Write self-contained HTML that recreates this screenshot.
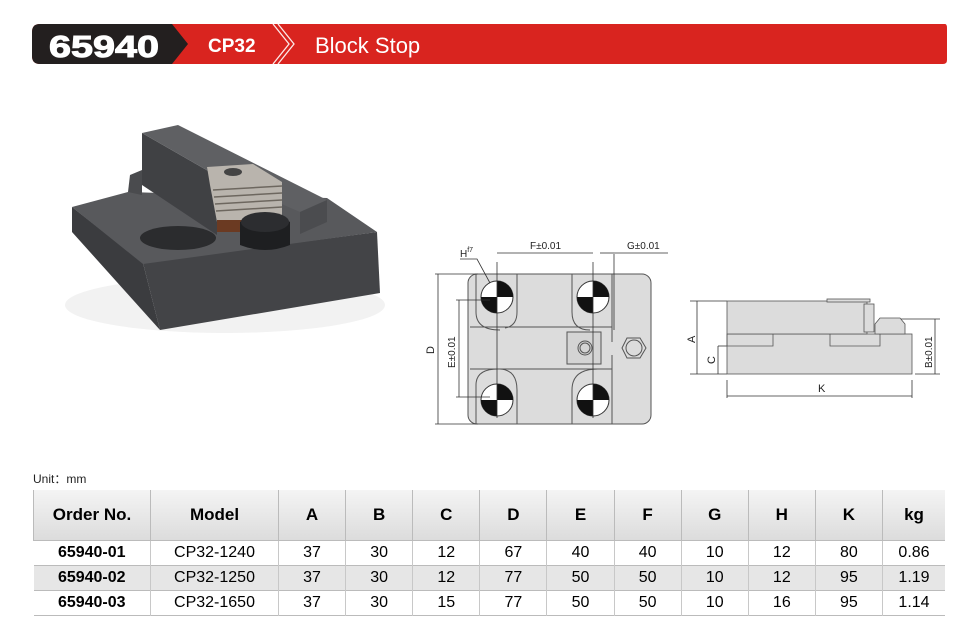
<!DOCTYPE html>
<html><head><meta charset="utf-8"><style>
body{margin:0;background:#fff;width:968px;height:627px;overflow:hidden;font-family:"Liberation Sans",Arial,sans-serif;position:relative}
.abs{position:absolute}
table{border-collapse:collapse;position:absolute;left:33px;top:490px;width:912px;font-size:16px}
td{text-align:center;padding:0;border-left:1px solid #c8c8c8}
td:first-child{border-left:none;font-weight:bold}
tr.h td{height:50px;font-weight:bold;font-size:17px;background:linear-gradient(#f4f4f4,#dcdcdc);border-left:1px solid #bbb}
tr.r td{height:24px;border-top:1px solid #bbb}
tr.g td{background:#e6e6e6}
</style></head><body>
<svg class="abs" style="left:0;top:0" width="968" height="627">
<path d="M40,24 H945 Q947,24 947,28 V60 Q947,64 943,64 H40 Q32,64 32,56 V32 Q32,24 40,24Z" fill="#d9241f"/>
<path d="M40,24 H172 L188,44 L172,64 H40 Q32,64 32,56 V32 Q32,24 40,24Z" fill="#231f1f"/>
<path d="M273,24 L289,44 L273,64 M278,24 L294,44 L278,64" stroke="#fff" stroke-width="1.3" fill="none" opacity="0.9"/>
<text x="49" y="57" font-size="31" font-weight="bold" fill="#fff" font-family="Liberation Sans" textLength="110" lengthAdjust="spacingAndGlyphs" stroke="#fff" stroke-width="1">65940</text>
<text x="208" y="52" font-size="19" font-weight="bold" fill="#fff" font-family="Liberation Sans">CP32</text>
<text x="315" y="53" font-size="22" fill="#fff" font-family="Liberation Sans">Block Stop</text>

<ellipse cx="225" cy="305" rx="160" ry="28" fill="#f2f2f2"/>
<polygon points="72,207 143,263 160,330 72,232" fill="#3b3c3f"/>
<polygon points="143,263 377,232 380,293 160,330" fill="#434447"/>
<polygon points="72,207 128,192 327,198 377,232 143,264" fill="#58595c"/>
<polygon points="130,175 142,170 142,195 128,192" fill="#4a4b4e"/>
<ellipse cx="178" cy="238" rx="38" ry="12" fill="#2b2c2e"/>
<polygon points="142,133 217,176 217,235 142,185" fill="#404144"/>
<polygon points="142,133 178,125 327,200 300,212 217,176" fill="#5f6063"/>
<polygon points="300,212 327,200 327,222 300,234" fill="#4b4c4f"/>
<polygon points="207,167 253,164 282,182 282,217 217,222 210,185" fill="#b9b4ad"/>
<g stroke="#6d675f" stroke-width="1.5"><line x1="213" y1="190" x2="282" y2="186"/><line x1="214" y1="197" x2="282" y2="193"/><line x1="215" y1="204" x2="282" y2="200"/><line x1="216" y1="211" x2="282" y2="207"/></g>
<ellipse cx="233" cy="172" rx="9" ry="4" fill="#444"/>
<rect x="217" y="220" width="25" height="12" fill="#6b3a22"/>
<path d="M240,222 Q265,205 290,222 V245 Q265,255 240,245Z" fill="#1e1f21"/>
<ellipse cx="265" cy="222" rx="24" ry="10" fill="#2c2d30"/>

<g stroke="#555" stroke-width="1" fill="none">
<rect x="468" y="274" width="183" height="150" rx="9" fill="#dcdcdc"/>
<path d="M470,327 H612 V342 M470,369 H612 V355"/>
<path d="M476,274 V312 Q476,330 500,330 M517,274 V312 Q517,326 505,328"/>
<path d="M572,274 V312 Q572,330 590,330 M612,274 V342"/>
<path d="M476,424 V385 Q476,369 498,369 M517,424 V390 Q517,370 500,369"/>
<path d="M572,424 V390 Q572,369 598,369 M612,424 V355"/>
<rect x="567" y="332" width="34" height="32" fill="#d4d4d4"/>
<circle cx="585" cy="348" r="7"/><circle cx="585" cy="348" r="5"/>
<polygon points="622,348 627,338 640,338 646,348 640,358 627,358"/>
<circle cx="634" cy="348" r="8"/>
</g>
<g>
<circle cx="497" cy="297" r="16" fill="#fff" stroke="#333"/><path d="M497,297 V281 A16,16 0 0 1 513,297Z M497,297 V313 A16,16 0 0 1 481,297Z" fill="#111"/>
<circle cx="593" cy="297" r="16" fill="#fff" stroke="#333"/><path d="M593,297 V281 A16,16 0 0 1 609,297Z M593,297 V313 A16,16 0 0 1 577,297Z" fill="#111"/>
<circle cx="497" cy="400" r="16" fill="#fff" stroke="#333"/><path d="M497,400 V384 A16,16 0 0 1 513,400Z M497,400 V416 A16,16 0 0 1 481,400Z" fill="#111"/>
<circle cx="593" cy="400" r="16" fill="#fff" stroke="#333"/><path d="M593,400 V384 A16,16 0 0 1 609,400Z M593,400 V416 A16,16 0 0 1 577,400Z" fill="#111"/>
</g>
<g stroke="#333" stroke-width="0.8" fill="none">
<line x1="497" y1="262" x2="497" y2="418"/><line x1="593" y1="262" x2="593" y2="418"/><line x1="614" y1="254" x2="614" y2="330"/>
<line x1="497" y1="253" x2="593" y2="253"/><line x1="600" y1="253" x2="614" y2="253"/><line x1="614" y1="253" x2="668" y2="253"/>
<line x1="435" y1="274" x2="478" y2="274"/><line x1="435" y1="424" x2="478" y2="424"/><line x1="438" y1="274" x2="438" y2="424"/>
<line x1="456" y1="300" x2="490" y2="300"/><line x1="456" y1="397" x2="490" y2="397"/><line x1="459" y1="300" x2="459" y2="397"/>
<path d="M460,259 H477 L490,283"/>
<line x1="727" y1="301" x2="690" y2="301"/><line x1="697" y1="301" x2="697" y2="374"/><line x1="690" y1="374" x2="727" y2="374"/>
<line x1="718" y1="346" x2="727" y2="346"/><line x1="718" y1="346" x2="718" y2="374"/>
<line x1="727" y1="380" x2="727" y2="398"/><line x1="912" y1="380" x2="912" y2="398"/><line x1="727" y1="396" x2="912" y2="396"/>
<line x1="900" y1="319" x2="940" y2="319"/><line x1="915" y1="374" x2="940" y2="374"/><line x1="935" y1="319" x2="935" y2="374"/>
</g>
<g font-family="Liberation Sans" font-size="10" fill="#222">
<text x="530" y="249">F±0.01</text><text x="627" y="249">G±0.01</text>
<text x="460" y="257">H<tspan font-size="7" dy="-5">f7</tspan></text>
<text transform="translate(434,354) rotate(-90)" font-size="11">D</text>
<text transform="translate(455,368) rotate(-90)">E±0.01</text>
<text transform="translate(695,343) rotate(-90)" font-size="11">A</text>
<text transform="translate(715,364) rotate(-90)" font-size="11">C</text>
<text transform="translate(932,368) rotate(-90)">B±0.01</text>
<text x="818" y="392" font-size="11">K</text>
</g>
<g stroke="#555" stroke-width="0.8" fill="#dcdcdc">
<rect x="727" y="334" width="185" height="40"/>
<rect x="727" y="301" width="140" height="33"/>
<rect x="827" y="299" width="43" height="3"/>
<path d="M727,334 V346 H773 V334 M830,334 V346 H880 V334" fill="none"/>
<rect x="864" y="304" width="10" height="28"/>
<polygon points="875,324 880,318 900,318 905,324 905,334 875,334"/>
</g>
</svg>
<div class="abs" style="left:33px;top:470px;font-size:12px;color:#222">Unit：mm</div>
<table>
<tr class="h"><td style="width:116px">Order No.</td><td style="width:127px">Model</td><td>A</td><td>B</td><td>C</td><td>D</td><td>E</td><td>F</td><td>G</td><td>H</td><td>K</td><td style="width:62px">kg</td></tr>
<tr class="r"><td>65940-01</td><td>CP32-1240</td><td>37</td><td>30</td><td>12</td><td>67</td><td>40</td><td>40</td><td>10</td><td>12</td><td>80</td><td>0.86</td></tr>
<tr class="r g"><td>65940-02</td><td>CP32-1250</td><td>37</td><td>30</td><td>12</td><td>77</td><td>50</td><td>50</td><td>10</td><td>12</td><td>95</td><td>1.19</td></tr>
<tr class="r" style="border-bottom:1px solid #bbb"><td>65940-03</td><td>CP32-1650</td><td>37</td><td>30</td><td>15</td><td>77</td><td>50</td><td>50</td><td>10</td><td>16</td><td>95</td><td>1.14</td></tr>
</table>
</body></html>
